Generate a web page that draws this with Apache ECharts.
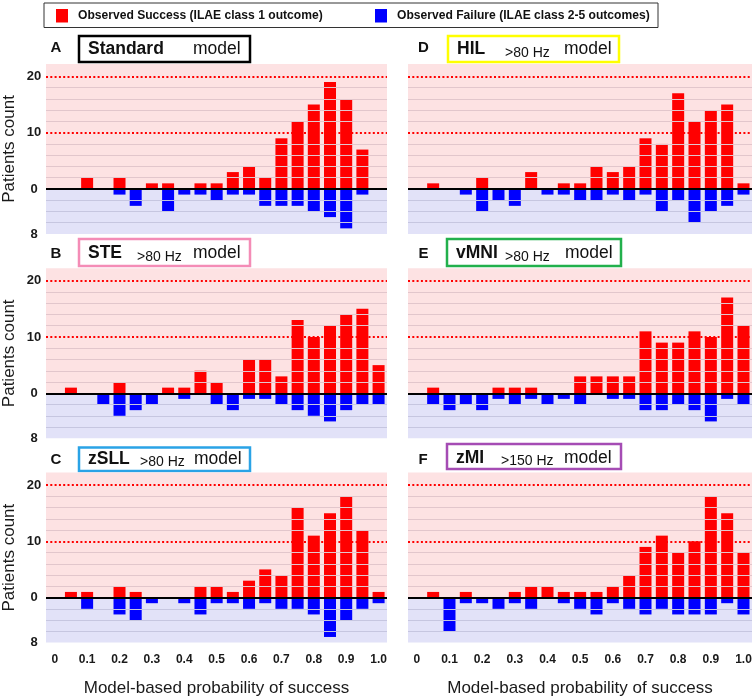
<!DOCTYPE html>
<html><head><meta charset="utf-8">
<script src="https://cdn.jsdelivr.net/npm/echarts@6/dist/echarts.min.js"></script>
<style>html,body{margin:0;padding:0;background:#fff}#c{width:755px;height:699px}</style>
</head><body><div id="c"></div>
<script>
// ---- data ----
const bins = [0.05, 0.10, 0.15, 0.20, 0.25, 0.30, 0.35, 0.40, 0.45, 0.50, 0.55, 0.60, 0.65, 0.70, 0.75, 0.80, 0.85, 0.90, 0.95, 1.00];
const xTickValues = [0, 0.1, 0.2, 0.3, 0.4, 0.5, 0.6, 0.7, 0.8, 0.9, 1.0];
const xTickLabels = ['0', '0.1', '0.2', '0.3', '0.4', '0.5', '0.6', '0.7', '0.8', '0.9', '1.0'];
const yTickValues = [-8, 0, 10, 20];

const successA = [0, 2, 0, 2, 0, 1, 1, 0, 1, 1, 3, 4, 2, 9, 12, 15, 19, 16, 7, 0];
const failureA = [0, 0, 0, 1, 3, 0, 4, 1, 1, 2, 1, 1, 3, 3, 3, 4, 5, 7, 1, 0];
const successB = [1, 0, 0, 2, 0, 0, 1, 1, 4, 2, 0, 6, 6, 3, 13, 10, 12, 14, 15, 5];
const failureB = [0, 0, 2, 4, 3, 2, 0, 1, 0, 2, 3, 1, 1, 2, 3, 4, 5, 3, 2, 2];
const successC = [1, 1, 0, 2, 1, 0, 0, 0, 2, 2, 1, 3, 5, 4, 16, 11, 15, 18, 12, 1];
const failureC = [0, 2, 0, 3, 4, 1, 0, 1, 3, 1, 1, 2, 1, 2, 2, 3, 7, 4, 2, 1];
const successD = [1, 0, 0, 2, 0, 0, 3, 0, 1, 1, 4, 3, 4, 9, 8, 17, 12, 14, 15, 1];
const failureD = [0, 0, 1, 4, 2, 3, 0, 1, 1, 2, 2, 1, 2, 1, 4, 2, 6, 4, 3, 1];
const successE = [1, 0, 0, 0, 1, 1, 1, 0, 0, 3, 3, 3, 3, 11, 9, 9, 11, 10, 17, 12];
const failureE = [2, 3, 2, 3, 1, 2, 1, 2, 1, 2, 0, 1, 1, 3, 3, 2, 3, 5, 1, 2];
const successF = [1, 0, 1, 0, 0, 1, 2, 2, 1, 1, 1, 2, 4, 9, 11, 8, 10, 18, 15, 8];
const failureF = [0, 6, 1, 1, 2, 1, 2, 0, 1, 2, 3, 1, 2, 3, 2, 3, 3, 3, 1, 3];

const legendLabels = ['Observed Success (ILAE class 1 outcome)', 'Observed Failure (ILAE class 2-5 outcomes)'];
const xAxisName = 'Model-based probability of success';
const yAxisName = 'Patients count';

// ---- layout / style ----
const panels = [
  {letter: 'A', name: 'Standard', sub: '', succ: successA, fail: failureA, col: 0, row: 0, border: '#000000',
   box: [79, 36, 171, 26], ty: 49.5, subX: 0, modelX: 193, letterPos: [56, 48]},
  {letter: 'B', name: 'STE', sub: '>80 Hz', succ: successB, fail: failureB, col: 0, row: 1, border: '#f48cb6',
   box: [79, 239, 171, 27], ty: 253.5, subX: 137, modelX: 193, letterPos: [56, 253.5]},
  {letter: 'C', name: 'zSLL', sub: '>80 Hz', succ: successC, fail: failureC, col: 0, row: 2, border: '#2aa3e6',
   box: [79, 447.5, 171, 23.5], ty: 459, subX: 140, modelX: 194, letterPos: [56, 459.5]},
  {letter: 'D', name: 'HIL', sub: '>80 Hz', succ: successD, fail: failureD, col: 1, row: 0, border: '#ffff00',
   box: [448, 36, 171, 26], ty: 49.5, subX: 505, modelX: 564, letterPos: [423.5, 47.5]},
  {letter: 'E', name: 'vMNI', sub: '>80 Hz', succ: successE, fail: failureE, col: 1, row: 1, border: '#22b04c',
   box: [447, 239, 174, 27], ty: 253.5, subX: 505, modelX: 565, letterPos: [423.5, 253.5]},
  {letter: 'F', name: 'zMI', sub: '>150 Hz', succ: successF, fail: failureF, col: 1, row: 2, border: '#a54cb4',
   box: [447, 444, 174, 25], ty: 458, subX: 501, modelX: 564, letterPos: [423, 459.5]}
];
const gridLeft = [43, 408];
const gridTop = [64, 268.3, 472.6];
const gridW = 344, gridH = 170;
const yMin = -8, yMax = 22.2;
const xMin = -0.027, xMax = 1.026;
const pinkBg = '#fde2e3', blueBg = '#e2e2f8';
const pinkLine = '#e2c6cc', blueLine = '#c6c6e0';
const pinkLevels = [2, 4, 6, 8, 12, 14, 16, 18];
const dottedLevels = [10, 20];
const blueLevels = [-2, -4, -6];
const FONT = "'Liberation Sans', Arial, Helvetica, sans-serif";
const NARROW = "'Liberation Sans Narrow', 'Arial Narrow', 'Liberation Sans', Arial, sans-serif";

const grids = [], xAxes = [], yAxes = [], series = [], graphics = [];

panels.forEach((p, i) => {
  grids.push({left: gridLeft[p.col], top: gridTop[p.row], width: gridW, height: gridH, containLabel: false});
  xAxes.push({
    gridIndex: i, type: 'value', min: xMin, max: xMax,
    axisLine: {show: false}, axisTick: {show: false}, splitLine: {show: false},
    axisLabel: {
      show: p.row === 2, customValues: xTickValues, margin: 11,
      fontFamily: NARROW, fontWeight: 'bold', fontSize: 12, color: '#1a1a1a',
      formatter: v => { const k = xTickValues.findIndex(t => Math.abs(t - v) < 1e-6); return k >= 0 ? xTickLabels[k] : ''; }
    },
    name: p.row === 2 ? xAxisName : '', nameLocation: 'middle', nameGap: 37,
    nameTextStyle: {fontFamily: FONT, fontSize: 17, color: '#1a1a1a'}
  });
  yAxes.push({
    gridIndex: i, type: 'value', min: yMin, max: yMax,
    axisLine: {show: false}, axisTick: {show: false}, splitLine: {show: false},
    axisLabel: {
      show: p.col === 0, customValues: yTickValues, margin: 12, align: 'center',
      fontFamily: FONT, fontWeight: 'bold', fontSize: 13, color: '#1a1a1a',
      formatter: v => String(Math.abs(v))
    },
    name: p.col === 0 ? yAxisName : '', nameLocation: 'middle', nameGap: 28,
    nameTextStyle: {fontFamily: FONT, fontSize: 17, color: '#1a1a1a'}
  });
  const lines = [];
  pinkLevels.forEach(v => lines.push({yAxis: v, lineStyle: {color: pinkLine, width: 1, type: 'solid'}}));
  blueLevels.forEach(v => lines.push({yAxis: v, lineStyle: {color: blueLine, width: 1, type: 'solid'}}));
  dottedLevels.forEach(v => lines.push({yAxis: v, lineStyle: {color: '#ff0000', width: 2, type: [2, 2.3]}}));
  series.push({
    type: 'line', xAxisIndex: i, yAxisIndex: i, data: [], z: 1, silent: true,
    markArea: {silent: true, data: [
      [{yAxis: 0, itemStyle: {color: pinkBg}}, {yAxis: yMax}],
      [{yAxis: yMin, itemStyle: {color: blueBg}}, {yAxis: 0}]
    ]},
    markLine: {silent: true, symbol: 'none', label: {show: false}, data: lines}
  });
  series.push({
    type: 'bar', xAxisIndex: i, yAxisIndex: i, barWidth: 12, barGap: '-100%', z: 3,
    itemStyle: {color: '#ff0000'},
    data: bins.map((b, j) => [b, p.succ[j]])
  });
  series.push({
    type: 'bar', xAxisIndex: i, yAxisIndex: i, barWidth: 12, barGap: '-100%', z: 3,
    itemStyle: {color: '#0000ff'},
    data: bins.map((b, j) => [b, -p.fail[j]])
  });
  series.push({
    type: 'line', xAxisIndex: i, yAxisIndex: i, data: [], z: 6, silent: true,
    markLine: {silent: true, symbol: 'none', label: {show: false},
      data: [{yAxis: 0, lineStyle: {color: '#000000', width: 2, type: 'solid'}}]}
  });

  // panel letter
  graphics.push({type: 'text', x: p.letterPos[0], y: p.letterPos[1], style: {
    text: p.letter, font: 'bold 15px ' + FONT, fill: '#111', textAlign: 'center', textVerticalAlign: 'middle'}});
  // title box
  graphics.push({type: 'rect', shape: {x: p.box[0], y: p.box[1], width: p.box[2], height: p.box[3]},
    style: {fill: '#fff', stroke: p.border, lineWidth: 2.5}});
  graphics.push({type: 'text', x: p.box[0] + 9, y: p.ty, style: {
    text: p.name, font: 'bold 17.5px ' + FONT, fill: '#111', textAlign: 'left', textVerticalAlign: 'middle'}});
  if (p.sub) graphics.push({type: 'text', x: p.subX, y: p.ty + 3.5, style: {
    text: p.sub, font: '14px ' + FONT, fill: '#111', textAlign: 'left', textVerticalAlign: 'middle'}});
  graphics.push({type: 'text', x: p.modelX, y: p.ty, style: {
    text: 'model', font: '17.5px ' + FONT, fill: '#111', textAlign: 'left', textVerticalAlign: 'middle'}});
});

// legend
graphics.push({type: 'rect', shape: {x: 44, y: 3, width: 614, height: 24.5}, style: {fill: '#fff', stroke: '#333', lineWidth: 1}});
graphics.push({type: 'rect', shape: {x: 56, y: 9, width: 12, height: 13.5}, style: {fill: '#ff0000'}});
graphics.push({type: 'text', x: 78, y: 15.5, style: {text: legendLabels[0], font: 'bold 12.1px ' + NARROW, fill: '#111', textAlign: 'left', textVerticalAlign: 'middle'}});
graphics.push({type: 'rect', shape: {x: 375, y: 9, width: 12, height: 13.5}, style: {fill: '#0000ff'}});
graphics.push({type: 'text', x: 397, y: 15.5, style: {text: legendLabels[1], font: 'bold 12.1px ' + NARROW, fill: '#111', textAlign: 'left', textVerticalAlign: 'middle'}});

const chart = echarts.init(document.getElementById('c'), null, {renderer: 'canvas'});
chart.setOption({
  animation: false,
  backgroundColor: '#ffffff',
  grid: grids, xAxis: xAxes, yAxis: yAxes, series: series,
  graphic: {elements: graphics}
});
</script></body></html>
